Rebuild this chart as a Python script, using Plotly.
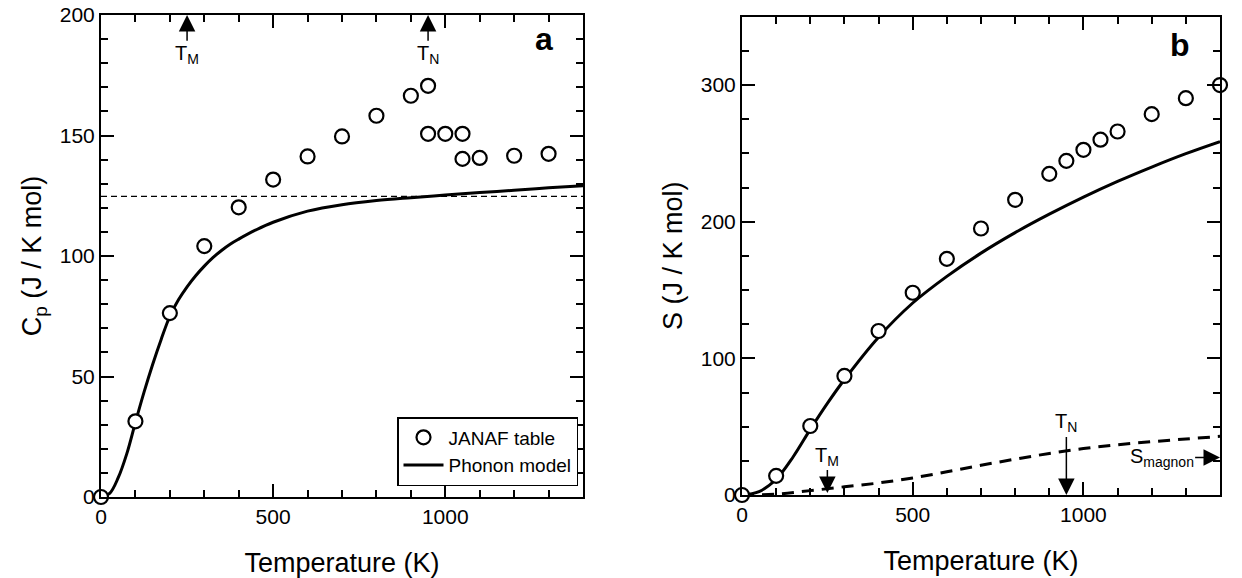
import plotly.graph_objects as go

# ---------------- data ----------------
# Panel a: heat capacity
T_janaf_cp = [0, 100, 200, 300, 400, 500, 600, 700, 800, 900, 950, 950, 1000, 1050, 1050, 1100, 1200, 1300]
Cp_janaf = [0, 31.4, 76.3, 104.1, 120.2, 131.7, 141.3, 149.6, 158.2, 166.5, 170.6, 150.7, 150.7, 150.7,
            140.3, 140.7, 141.6, 142.4]

T_phonon_cp = [0, 25, 50, 75, 100, 125, 150, 175, 200, 225, 250, 275, 300, 325, 350, 375, 400, 450, 500,
               600, 700, 800, 900, 1000, 1100, 1200, 1300, 1400]
Cp_phonon = [0, 1.5, 8, 18, 31, 43.5, 55, 65.5, 75, 81.8, 87.2, 91.8, 95.8, 99.3, 102.3, 104.9, 107, 110.8,
             114, 118.6, 121.3, 123, 124.2, 125.3, 126.3, 127.3, 128.3, 129.2]

DULONG_PETIT = 124.7
T_LIMITS = [0, 1400]

# Panel b: entropy
T_janaf_s = [0, 100, 200, 300, 400, 500, 600, 700, 800, 900, 950, 1000, 1050, 1100, 1200, 1300, 1400]
S_janaf = [0, 14, 50.5, 87.1, 120, 148, 172.8, 195, 216, 235, 244.5, 252.6, 260, 266, 278.7, 290.4, 300]

T_phonon_s = [0, 50, 100, 150, 200, 250, 300, 400, 500, 600, 700, 800, 900, 1000, 1100, 1200, 1300, 1400]
S_phonon = [0, 2.5, 11.5, 28, 48, 67, 84.5, 115.5, 140.5, 160, 177, 192, 205.5, 218, 229.5, 240, 249.8, 258.6]

T_magnon = [0, 100, 200, 300, 400, 500, 600, 700, 800, 900, 1000, 1100, 1200, 1300, 1400]
S_magnon = [0, 0.6, 3.2, 6.0, 8.8, 12.5, 17, 21.8, 26.2, 30.4, 34.0, 36.8, 39, 41, 42.9]

T_MORIN = 250
T_NEEL = 950

FONT = "Liberation Sans"
W, H = 1242, 578

fig = go.Figure()

# ---- panel a ----
fig.add_trace(go.Scatter(x=T_LIMITS, y=[DULONG_PETIT, DULONG_PETIT], mode="lines",
                         line=dict(color="black", width=1.2, dash="6px,4px"),
                         showlegend=False, xaxis="x", yaxis="y", hoverinfo="skip"))
fig.add_trace(go.Scatter(x=T_phonon_cp, y=Cp_phonon, mode="lines", name="Phonon model",
                         line=dict(color="black", width=3, shape="spline", smoothing=1),
                         legendrank=2, xaxis="x", yaxis="y"))
fig.add_trace(go.Scatter(x=T_janaf_cp, y=Cp_janaf, mode="markers", name="JANAF table",
                         marker=dict(symbol="circle", size=14, color="white",
                                     line=dict(color="black", width=2.2)),
                         cliponaxis=False, legendrank=1, xaxis="x", yaxis="y"))

# ---- panel b ----
fig.add_trace(go.Scatter(x=T_magnon, y=S_magnon, mode="lines",
                         line=dict(color="black", width=3, dash="12px,8px", shape="spline", smoothing=1),
                         showlegend=False, xaxis="x2", yaxis="y2"))
fig.add_trace(go.Scatter(x=T_phonon_s, y=S_phonon, mode="lines",
                         line=dict(color="black", width=3, shape="spline", smoothing=1),
                         showlegend=False, xaxis="x2", yaxis="y2"))
fig.add_trace(go.Scatter(x=T_janaf_s, y=S_janaf, mode="markers",
                         marker=dict(symbol="circle", size=14, color="white",
                                     line=dict(color="black", width=2.2)),
                         cliponaxis=False, showlegend=False, xaxis="x2", yaxis="y2"))

axis_common = dict(showline=True, linewidth=2, linecolor="black", mirror="allticks",
                   ticks="inside", tickwidth=1.5, tickcolor="black", showgrid=False,
                   zeroline=False, automargin=False,
                   tickfont=dict(family=FONT, size=21, color="black"))

xa = dict(axis_common, range=T_LIMITS, tick0=0, dtick=500, ticklen=13,
          minor=dict(dtick=100, ticklen=7, ticks="inside", tickwidth=1.5, tickcolor="black", showgrid=False),
          title=dict(text="Temperature (K)", font=dict(family=FONT, size=27, color="black"), standoff=26))

fig.update_layout(
    width=W, height=H,
    margin=dict(l=0, r=0, t=0, b=0, autoexpand=False),
    paper_bgcolor="white", plot_bgcolor="white",
    font=dict(family=FONT, color="black"),
    xaxis=dict(xa, domain=[101 / W, 583 / W], anchor="y"),
    yaxis=dict(axis_common, domain=[(H - 497) / H, (H - 15) / H], anchor="x", range=[0, 200],
               tick0=0, dtick=50, ticklen=13,
               minor=dict(dtick=10, ticklen=7, ticks="inside", tickwidth=1.5, tickcolor="black", showgrid=False),
               title=dict(text="C<sub>p</sub> (J / K mol)", font=dict(family=FONT, size=27, color="black"),
                          standoff=10)),
    xaxis2=dict(xa, domain=[742 / W, 1220 / W], anchor="y2"),
    yaxis2=dict(axis_common, domain=[(H - 495) / H, (H - 16.7) / H], anchor="x2", range=[0, 350],
                tick0=0, dtick=100, ticklen=13,
                minor=dict(dtick=25, ticklen=7, ticks="inside", tickwidth=1.5, tickcolor="black", showgrid=False),
                title=dict(text="S (J / K mol)", font=dict(family=FONT, size=27, color="black"),
                           standoff=10)),
    legend=dict(x=578 / W, xanchor="right", y=(H - 486) / H, yanchor="bottom",
                bordercolor="black", borderwidth=1.5, bgcolor="white", itemwidth=40,
                font=dict(family=FONT, size=19, color="black"), tracegroupgap=0),
    showlegend=True,
)

arrow = dict(showarrow=True, arrowhead=2, arrowsize=2.2, arrowwidth=1.5, arrowcolor="black",
             font=dict(family=FONT, size=20, color="black"))

annotations = [
    # panel a: labels below, arrows pointing up to the top axis
    dict(arrow, text="T<sub>M</sub>", x=T_MORIN, y=200, ax=T_MORIN, ay=183.5,
         xref="x", yref="y", axref="x", ayref="y"),
    dict(arrow, text="T<sub>N</sub>", x=T_NEEL, y=200, ax=T_NEEL, ay=183.5,
         xref="x", yref="y", axref="x", ayref="y"),
    dict(showarrow=False, x=1318, y=190, xref="x", yref="y", text="<b>a</b>", xanchor="right",
         yanchor="middle", font=dict(family=FONT, size=32, color="black")),
    # panel b: labels above, arrows pointing down to the bottom axis
    dict(arrow, text="T<sub>M</sub>", x=T_MORIN, y=1.5, ax=T_MORIN, ay=28.5,
         xref="x2", yref="y2", axref="x2", ayref="y2"),
    dict(arrow, text="T<sub>N</sub>", x=T_NEEL, y=0, ax=T_NEEL, ay=52.7,
         xref="x2", yref="y2", axref="x2", ayref="y2"),
    dict(arrow, text="S<sub>magnon</sub>", x=1400, y=27.5, ax=1229, ay=27.5,
         xref="x2", yref="y2", axref="x2", ayref="y2"),
    dict(showarrow=False, x=1318, y=329, xref="x2", yref="y2", text="<b>b</b>", xanchor="right",
         yanchor="middle", font=dict(family=FONT, size=32, color="black")),
]
fig.update_layout(annotations=annotations)

fig.write_html("out.html")
